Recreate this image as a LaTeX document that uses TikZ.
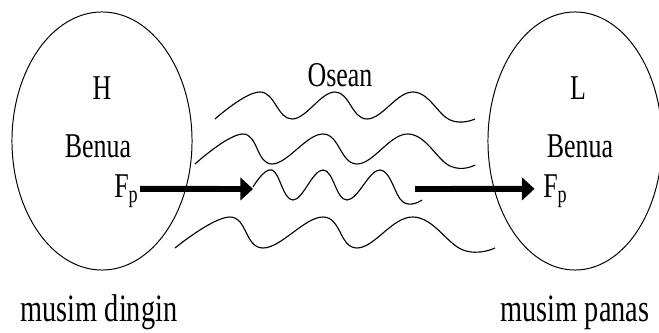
\documentclass[tikz,border=0pt]{standalone}
\usepackage{fontspec}
\setmainfont{Liberation Serif}
\usetikzlibrary{positioning,arrows.meta,shapes.geometric}
\newcommand{\tallstr}[1]{\scalebox{0.97}[1.3]{#1}}
\newcommand{\seasonstr}[1]{\scalebox{1.06}[1.45]{#1}}

\begin{document}
\begin{tikzpicture}[x=0.025cm, y=-0.025cm,
    land/.style={ellipse, draw, line width=0.7pt, minimum height=6.45cm, inner sep=0pt},
    lbl/.style={font=\fontsize{19}{22}\selectfont, inner sep=0pt},
    arr/.style={-{Triangle[length=9pt,width=16pt]}, line width=4.2pt},
    wave/.style={line width=0.8pt, smooth, tension=0.7}
  ]
    \useasboundingbox (0,0) rectangle (659,333);
    % continents
    \node[land, minimum width=4.5cm] (cold) at (102,141) {};
    \node[land, minimum width=4.35cm] (warm) at (575,141) {};
    \node[lbl, anchor=base] (hl) at (102,100) {\tallstr{H}};
    \node[lbl, anchor=base] (bl) at (98,158) {\tallstr{Benua}};
    \node[lbl, anchor=base west] (fpl) at (114,198) {\tallstr{F\textsubscript{p}}};
    \node[lbl, anchor=base] (hr) at (578,100) {\tallstr{L}};
    \node[lbl, anchor=base] (br) at (580,158) {\tallstr{Benua}};
    \node[lbl, anchor=base west] (fpr) at (543,198) {\tallstr{F\textsubscript{p}}};
    \node[lbl, anchor=base] (sl) at (99,322) {\seasonstr{musim dingin}};
    \node[lbl, anchor=base] (sr) at (575,322) {\seasonstr{musim panas}};
    % ocean
    \node[lbl, anchor=base] (ocean) at (340,87) {\tallstr{Osean}};
    \draw[wave] plot coordinates {(215,119) (260,92) (292,119) (335,92) (367,119) (413,92) (450,120) (475,119)};
    \draw[wave] plot coordinates {(195,164) (243,134) (272,164) (323,134) (357,164) (408,134) (450,166) (475,165)};
    \draw[wave] plot coordinates {(253,187) (272,170) (293,200) (323,170) (347,200) (380,170) (403,202) (422,200)};
    \draw[wave] plot coordinates {(175,248) (230,217) (263,248) (323,217) (357,248) (413,217) (463,250) (495,248)};
    % pressure force
    \coordinate (tipl) at (253,189);
    \coordinate (tailr) at (415,189);
    \draw[arr] ([xshift=1pt,yshift=6.5pt]fpl.base east) -- (tipl);
    \draw[arr] (tailr) -- ([xshift=-6pt,yshift=6.5pt]fpr.base west);
\end{tikzpicture}
\end{document}
